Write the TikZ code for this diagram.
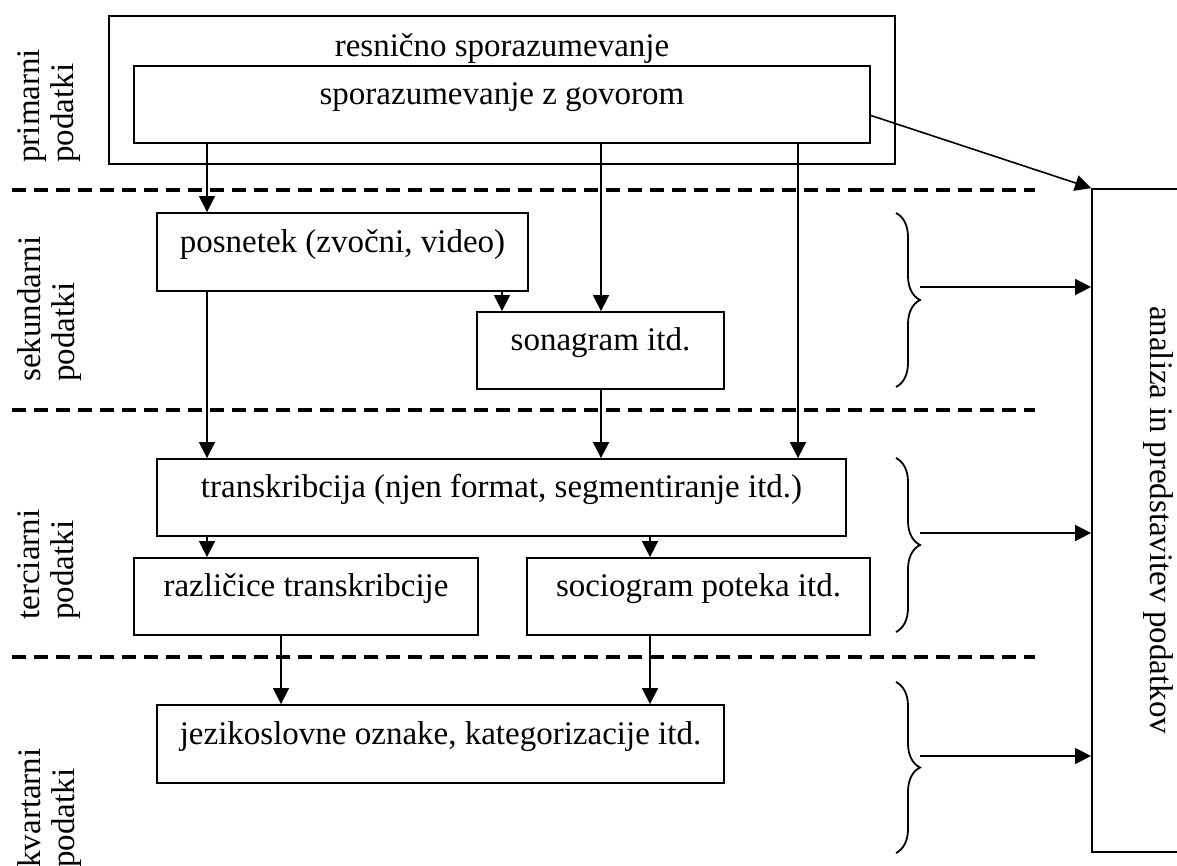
\documentclass[tikz,border=0pt]{standalone}
\usepackage{fontspec}
\setmainfont{Liberation Serif}
\usetikzlibrary{arrows.meta,decorations.pathreplacing}

\tikzset{
  box/.style={draw, line width=0.9pt, inner sep=0pt, text height=6pt, text depth=6pt},
  txt/.style={inner sep=0pt, text height=6pt, text depth=6pt},
  arr/.style={line width=0.8pt, -{Triangle[length=8pt,width=8pt]}},
  sep/.style={line width=1.6pt, dash pattern=on 7pt off 4pt},
  brc/.style={line width=0.9pt, decorate, decoration={brace, amplitude=12pt}},
  lbl/.style={rotate=90, anchor=north west, align=left, inner sep=0pt, font=\fontsize{16.5}{17}\selectfont}
}

\begin{document}
\begin{tikzpicture}[x=0.5pt, y=-0.5pt, font=\fontsize{16.5}{19}\selectfont]
\useasboundingbox (0,0) rectangle (1177,866);
%\draw[step=50, gray, very thin] (0,0) grid (1177,866);

% levels
\draw[sep] (12,190) -- (1035,190);
\draw[sep] (12,410) -- (1035,410);
\draw[sep] (12,657) -- (1035,657);

\node[lbl] (lprim) at (17,163) {primarni\\podatki};
\node[lbl] (lsek) at (17,382) {sekundarni\\podatki};
\node[lbl] (lterc) at (17,620) {terciarni\\podatki};
\node[lbl] (lkvart) at (17,868) {kvartarni\\podatki};

% boxes
\node[box, minimum width=393pt, minimum height=74pt] (real) at (502,90) {};
\node[txt] (realtxt) at (502,57) {resnično sporazumevanje};
\node[box, minimum width=368pt, minimum height=38.5pt] (govor) at (502,104.5) {sporazumevanje z govorom};
\node[box, minimum width=185.5pt, minimum height=39pt] (posnetek) at (342.5,252) {posnetek (zvočni, video)};
\node[box, minimum width=123.5pt, minimum height=38.5pt] (sonagram) at (600.5,350.5) {sonagram itd.};
\node[box, minimum width=344.5pt, minimum height=38.5pt] (transkr) at (501.5,497.5) {transkribcija (njen format, segmentiranje itd.)};
\node[box, minimum width=172pt, minimum height=38.5pt] (razl) at (306,596.5) {različice transkribcije};
\node[box, minimum width=171.5pt, minimum height=38.5pt] (socio) at (698.5,596.5) {sociogram poteka itd.};
\node[box, minimum width=283.5pt, minimum height=39pt] (jezik) at (440.5,744) {jezikoslovne oznake, kategorizacije itd.};
\node[box, minimum width=54pt, minimum height=331.5pt] (analiza) at (1146,520.5) {};
\node[txt, rotate=-90] (analizatxt) at (1150,520) {analiza in predstavitev podatkov};

% arrow columns
\coordinate (c1) at (207,0);
\coordinate (c2) at (502,0);
\coordinate (c3) at (601,0);
\coordinate (c4) at (798,0);
\coordinate (c5) at (650,0);
\coordinate (c6) at (281,0);

\draw[arr] (govor.south -| c1) -- (posnetek.north -| c1);
\draw[arr] (govor.south -| c3) -- (sonagram.north -| c3);
\draw[arr] (govor.south -| c4) -- (transkr.north -| c4);
\draw[arr] (posnetek.south -| c2) -- (sonagram.north -| c2);
\draw[arr] (posnetek.south -| c1) -- (transkr.north -| c1);
\draw[arr] (sonagram.south -| c3) -- (transkr.north -| c3);
\draw[arr] (transkr.south -| c1) -- (razl.north -| c1);
\draw[arr] (transkr.south -| c5) -- (socio.north -| c5);
\draw[arr] (razl.south -| c6) -- (jezik.north -| c6);
\draw[arr] (socio.south -| c5) -- (jezik.north -| c5);
\draw[arr] ([yshift=-5.5pt]govor.east) -- (analiza.north west);

% braces
\draw[brc] (896,213) -- (896,387);
\draw[brc] (896,458) -- (896,632);
\draw[brc] (896,682) -- (896,853);
\coordinate (a1) at (920,287);
\coordinate (a2) at (920,533);
\coordinate (a3) at (920,756);
\draw[arr] (a1) -- (a1 -| analiza.west);
\draw[arr] (a2) -- (a2 -| analiza.west);
\draw[arr] (a3) -- (a3 -| analiza.west);
\end{tikzpicture}
\end{document}
